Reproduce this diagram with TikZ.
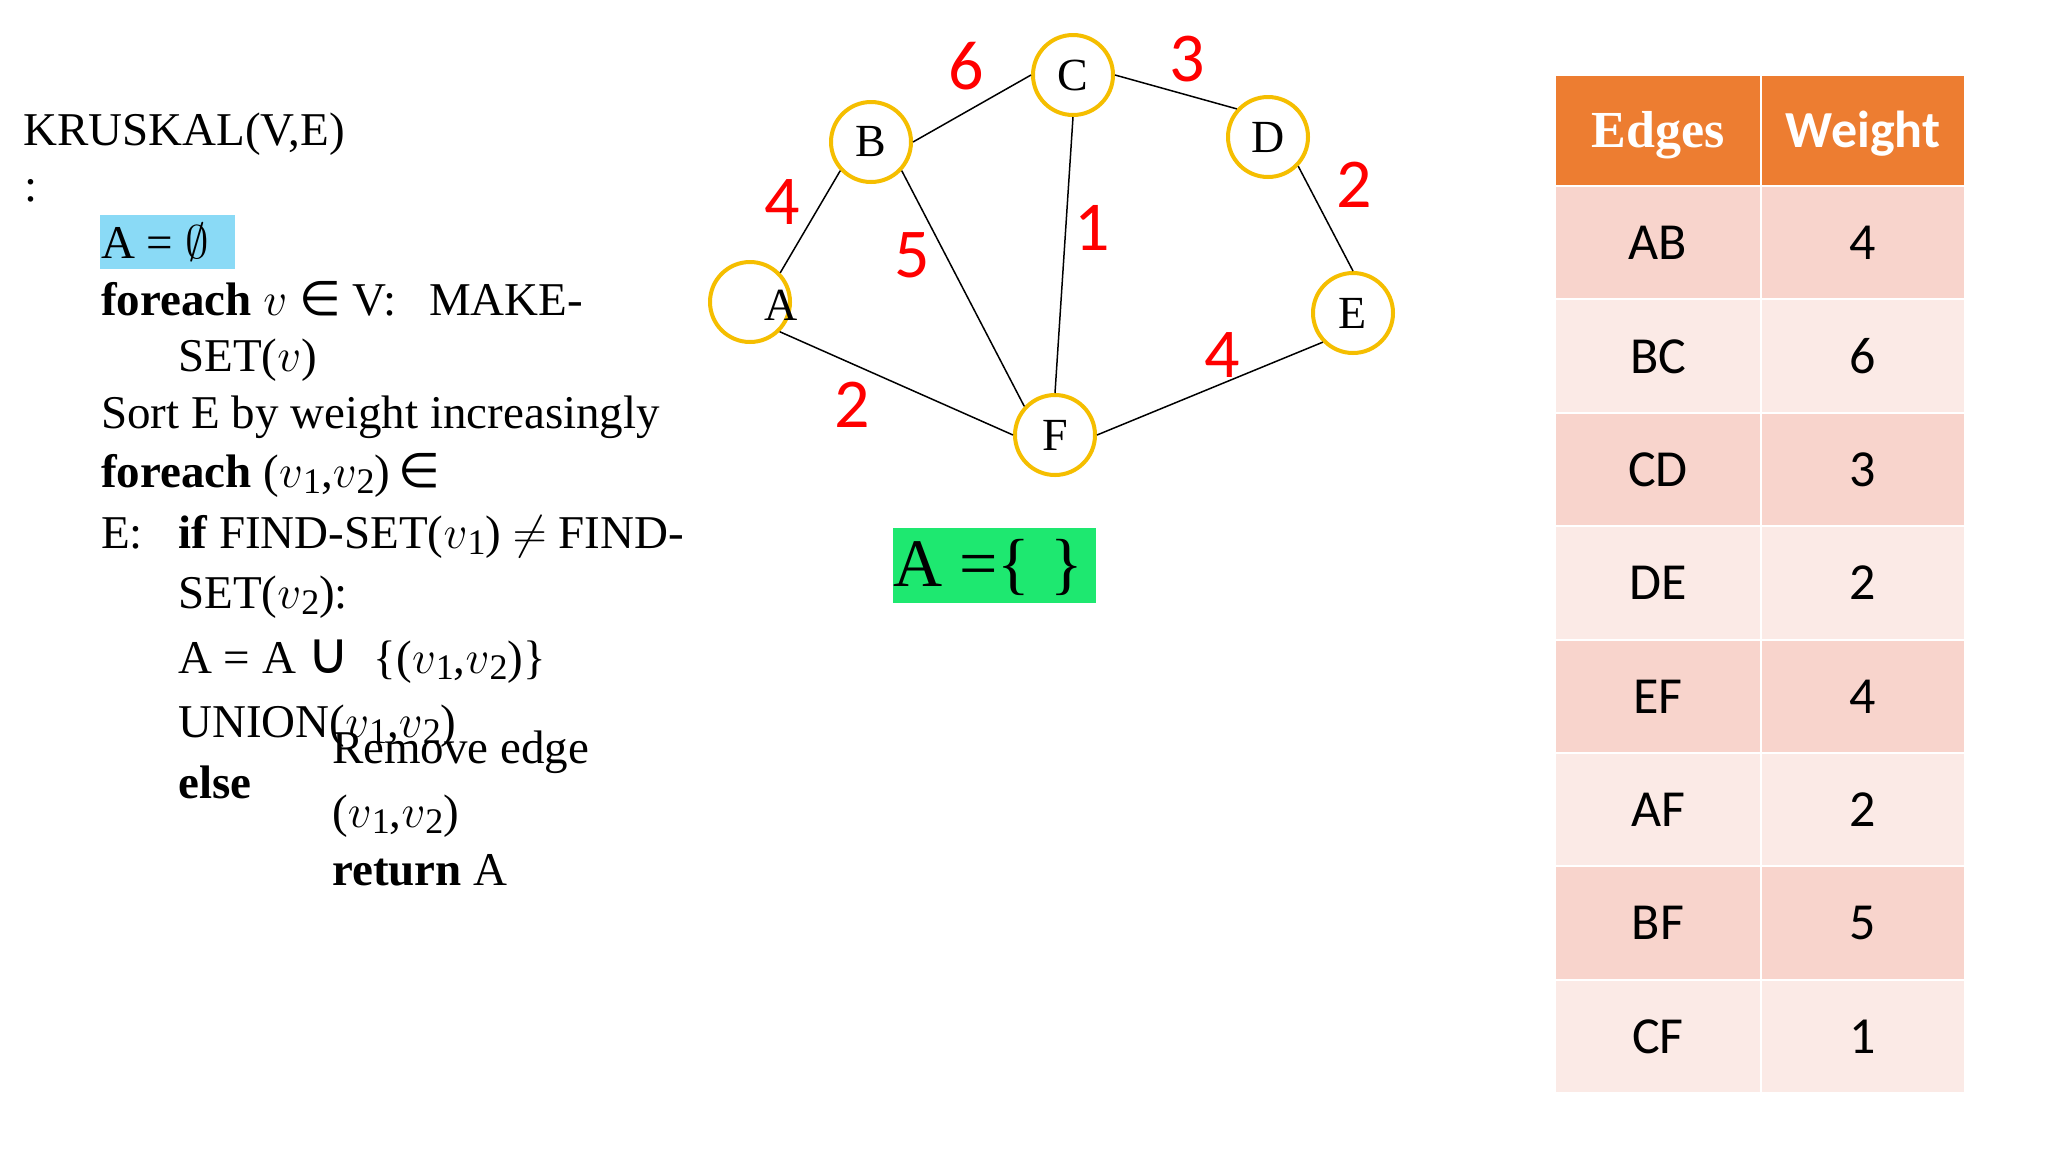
\RequirePackage{fix-cm}
\documentclass[tikz,border=0pt]{standalone}
\usepackage{fontspec}
\setmainfont{Liberation Serif}
\newfontfamily\carl{Carlito}
\newfontfamily\djv{DejaVu Sans}
\definecolor{gold}{RGB}{245,190,0}
\definecolor{wred}{RGB}{255,0,0}
\definecolor{hdr}{RGB}{237,125,49}
\definecolor{rowa}{RGB}{248,212,204}
\definecolor{rowb}{RGB}{251,234,230}
\definecolor{hlblue}{RGB}{138,218,246}
\definecolor{hlgreen}{RGB}{30,232,112}
\newcommand\vsb[1]{$v$\raisebox{-0.14em}{\fontsize{36}{36}\selectfont #1}}
\newcommand\elem{{\djv\fontsize{48}{48}\selectfont ∈}}
\newcommand\unn{{\djv\fontsize{58}{58}\selectfont ∪}}
\begin{document}
\begin{tikzpicture}[x=1pt,y=-1pt,
  code/.style={anchor=base west, inner sep=0pt, font=\fontsize{47}{50}\selectfont},
  vert/.style={circle, draw=gold, line width=4pt, minimum size=80pt, inner sep=0pt, font=\fontsize{46}{46}\selectfont},
  edge/.style={line width=1.5pt, black},
  wt/.style={text=wred, inner sep=0pt, font=\carl\fontsize{70}{70}\selectfont},
  cell/.style={draw=white, line width=2pt, inner sep=0pt, minimum height=113.375pt, text height=34pt, text depth=0pt, font=\carl\fontsize{52}{52}\selectfont, anchor=north west}]
\fill[white] (0,0) rectangle (2048,1152);
\useasboundingbox (0,0) rectangle (2048,1152);

% pseudocode
\node[fill=hlblue, minimum width=134.5pt, minimum height=54pt, inner sep=0pt, anchor=north west] (hl) at (100,214.6) {};
\node[code] (k1) at (23,145) {KRUSKAL(V,E)};
\node[code] (k2) at (24,201) {:};
\node[code] (l3) at (101,258) {A = $\emptyset$};
\node[code] (l4) at (101,315) {\textbf{foreach} $v$ \elem\ V:\hspace{0.7em}MAKE-};
\node[code] (l5) at (178,371) {SET($v$)};
\node[code] (l6) at (101,428) {Sort E by weight increasingly};
\node[code] (l7) at (101,487) {\textbf{foreach} (\vsb{1},\vsb{2})\,\elem};
\node[code] (l8a) at (101,548) {E:};
\node[code] (l8b) at (178,548) {\textbf{if} FIND-SET(\vsb{1}) $\neq$ FIND-};
\node[code] (l9) at (178,608) {SET(\vsb{2}):};
\node[code] (l10) at (178,673) {A = A \unn\ \ \{(\vsb{1},\vsb{2})\}};
\node[code] (l11) at (178,737) {UNION(\vsb{1},\vsb{2})};
\node[code] (l12) at (332,763) {Remove edge};
\node[code] (l13) at (178,798) {\textbf{else}};
\node[code] (l14) at (332,827) {(\vsb{1},\vsb{2})};
\node[code] (l15) at (332,885) {\textbf{return} A};

% graph
\node[vert] (A) at (750,302) {};
\node[vert] (B) at (871,142) {B};
\node[vert] (C) at (1073,75) {C};
\node[vert] (D) at (1268,137) {D};
\node[vert] (E) at (1353,313) {E};
\node[vert] (F) at (1055,435) {F};
\node[inner sep=0pt, font=\fontsize{46}{46}\selectfont] (Alab) at (781,305) {A};

\draw[edge] (A.44) -- (B.223);
\draw[edge] (A.315) -- (F.180);
\draw[edge] (B.0) -- (C.180);
\draw[edge] (B.317) -- (F.137);
\draw[edge] (C.270) -- (F.90);
\draw[edge] (C.0) -- (D.138);
\draw[edge] (D.316) -- (E.90);
\draw[edge] (E.224) -- (F.0);

\node[wt] (w6) at (966,66) {6};
\node[wt] (w3) at (1187,59) {3};
\node[wt] (w4a) at (782,202) {4};
\node[wt] (w5) at (912,255) {5};
\node[wt] (w1) at (1092,228) {1};
\node[wt] (w2a) at (1354,185) {2};
\node[wt] (w2b) at (852,405) {2};
\node[wt] (w4b) at (1222,355) {4};

% result box
\node[fill=hlgreen, minimum width=203pt, minimum height=75pt, inner sep=0pt, anchor=north west] (gbox) at (893,528) {};
\node[anchor=west, inner sep=0pt, font=\fontsize{68}{68}\selectfont] (gtext) at (893,567) {A =\{\hspace{0.3em}\}};

% table
\node[cell, fill=hdr, minimum width=206pt, minimum height=111pt, text=white, font=\bfseries\fontsize{52}{52}\selectfont] (h1) at (1554,74) {Edges};
\node[cell, fill=hdr, minimum width=204pt, minimum height=111pt, text=white, font=\carl\bfseries\fontsize{52}{52}\selectfont] (h2) at (1760,74) {Weight};
\foreach \e/\w/\c [count=\i] in {AB/4/rowa, BC/6/rowb, CD/3/rowa, DE/2/rowb, EF/4/rowa, AF/2/rowb, BF/5/rowa, CF/1/rowb}{
  \pgfmathsetmacro\yt{185+(\i-1)*113.375}
  \node[cell, fill=\c, minimum width=206pt] (e\i) at (1554,\yt) {\e};
  \node[cell, fill=\c, minimum width=204pt] (r\i) at (1760,\yt) {\w};
}
\end{tikzpicture}
\end{document}
